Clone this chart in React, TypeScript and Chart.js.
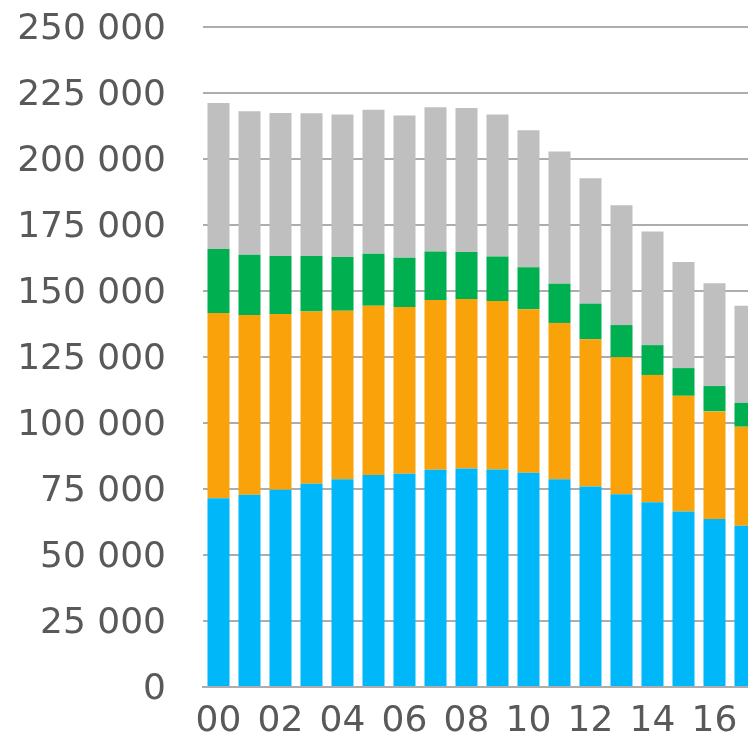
import React, { useEffect, useRef } from "react";
import { Chart, registerables } from "chart.js";

Chart.register(...registerables);

const categories = ["00", "01", "02", "03", "04", "05", "06", "07", "08", "09", "10", "11", "12", "13", "14", "15", "16", "17"];

const blueValues = [71500, 72800, 74700, 77000, 78700, 80300, 80800, 82300, 82800, 82400, 81200, 78700, 75900, 73000, 70000, 66500, 63600, 61100];
const orangeValues = [70200, 68100, 66600, 65200, 63800, 64100, 63100, 64300, 64200, 63800, 61900, 59200, 55800, 51900, 48200, 43800, 40800, 37500];
const greenValues = [24200, 22800, 22000, 21100, 20400, 19700, 18700, 18400, 17800, 16900, 15900, 14900, 13500, 12200, 11300, 10500, 9600, 9000];
const grayValues = [55300, 54400, 54100, 54000, 54000, 54600, 53900, 54600, 54500, 53800, 51900, 50000, 47500, 45400, 43000, 40200, 38900, 36800];

const yMin = 0;
const yMax = 250000;
const yStep = 25000;

function formatThousands(v: number): string {
  return String(v).replace(/\B(?=(\d{3})+(?!\d))/g, " ");
}

export default function App() {
  const canvasRef = useRef<HTMLCanvasElement | null>(null);

  useEffect(() => {
    if (!canvasRef.current) return;
    const chart = new Chart(canvasRef.current, {
      type: "bar",
      data: {
        labels: categories,
        datasets: [
          { label: "A", data: blueValues, backgroundColor: "#00B7F9" },
          { label: "B", data: orangeValues, backgroundColor: "#F9A20A" },
          { label: "C", data: greenValues, backgroundColor: "#00AF50" },
          { label: "D", data: grayValues, backgroundColor: "#BFBFBF" },
        ],
      },
      options: {
        animation: false,
        responsive: false,
        maintainAspectRatio: false,
        layout: { padding: { top: 0, right: 0, bottom: 0, left: 0 } },
        plugins: { legend: { display: false }, tooltip: { enabled: false } },
        datasets: { bar: { barPercentage: 0.71, categoryPercentage: 1 } },
        scales: {
          x: {
            stacked: true,
            grid: { display: false, drawTicks: false },
            border: { display: true, color: "#ADADAD", width: 2 },
            ticks: {
              autoSkip: false,
              maxRotation: 0,
              color: "#595959",
              font: { family: "'DejaVu Sans', sans-serif", size: 36 },
              padding: 13,
              callback: (_v: any, i: number) => (i % 2 === 0 ? categories[i] : ""),
            },
            afterFit: (s: any) => {
              s.height = 54;
              s.paddingBottom = 0;
              s.paddingTop = 0;
            },
          },
          y: {
            stacked: true,
            min: yMin,
            max: yMax,
            grid: { color: "#ADADAD", lineWidth: 2, drawTicks: false },
            border: { display: false },
            ticks: {
              stepSize: yStep,
              color: "#595959",
              font: { family: "'DejaVu Sans', sans-serif", size: 36, lineHeight: 0.14 },
              padding: 37,
              callback: (v: any) => ["", formatThousands(Number(v))],
            },
            afterFit: (s: any) => {
              s.width = 203;
              s.paddingTop = 27;
              s.paddingBottom = 0;
            },
          },
        },
      },
    });
    return () => chart.destroy();
  }, []);

  return (
    <div style={{ margin: -8, width: 756, height: 741, overflow: "hidden", position: "relative", background: "#fff" }}>
      <canvas ref={canvasRef} width={761} height={741} style={{ display: "block", width: 761, height: 741 }} />
    </div>
  );
}
